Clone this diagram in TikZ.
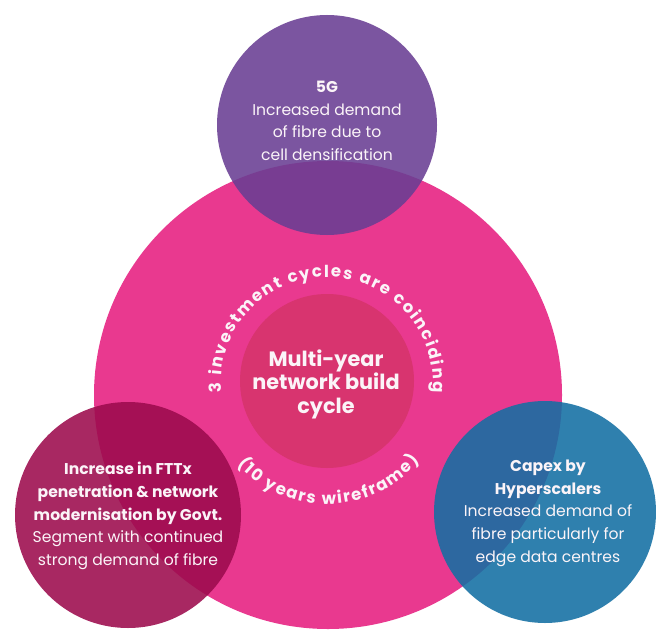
\documentclass[tikz,border=0pt]{standalone}
\usepackage{fontspec}
\setmainfont{Poppins}
\usetikzlibrary{decorations.text}
\definecolor{ringpink}{HTML}{E9398F}
\definecolor{corerose}{HTML}{D8346F}
\definecolor{fgpurple}{HTML}{693E93}
\definecolor{fttxplum}{HTML}{9C0B4D}
\definecolor{hyperblue}{HTML}{136FA3}
\definecolor{softwhite}{HTML}{FBF4F8}

\begin{document}
\begin{tikzpicture}[x=0.75pt,y=0.75pt,yscale=-1,xscale=1,
  bubble/.style={fill opacity=0.88},
  bubbletext/.style={text=softwhite,align=center,inner sep=0.75pt,font=\fontsize{11.7}{17}\selectfont},
  arctext/.style={decorate,decoration={text along path,text align=fit to path,
    text={|\bfseries\fontsize{12.4}{12.4}\selectfont\color{softwhite}|#1}}}
  ]
%set diagram to 656 x 631
\useasboundingbox (0,0) rectangle (656,631);
\fill[white] (0,0) rectangle (656,631);

\coordinate (ring) at (328,395);
\coordinate (core) at (327,381);
\coordinate (arcc) at (327,383);

%Shape: Circle
\fill[ringpink] (ring) circle (234);
%Shape: Circle
\fill[corerose] (core) circle (87);
%Shape: Circle
\fill[fgpurple,bubble] (327,125) circle (110);
%Shape: Circle
\fill[fttxplum,bubble] (128,515) circle (113);
%Shape: Circle
\fill[hyperblue,bubble] (545,512) circle (111);

% Curved Text
\path[arctext={3 investment cycles are coinciding}] ([shift={(-185:106)}]arcc) arc[start angle=-185,end angle=5,radius=106];
% Curved Text
\path[arctext={(10 years wireframe)}] ([shift={(-222:121)}]arcc) arc[start angle=-222,end angle=-320,radius=121];

% Text Node
\node[bubbletext,font=\bfseries\fontsize{15.6}{17.6}\selectfont] (coretext) at (326,384) {Multi-year\\network build\\cycle};
% Text Node
\node[bubbletext] (fivegtext) at (327,121) {\textbf{5G}\\Increased demand\\of fibre due to\\cell densification};
% Text Node
\node[bubbletext] (fttxtext) at (128,516) {\textbf{Increase in FTTx}\\\textbf{penetration \& network}\\\textbf{modernisation by Govt.}\\Segment with continued\\strong demand of fibre};
% Text Node
\node[bubbletext] (capextext) at (548,513) {\textbf{Capex by}\\\textbf{Hyperscalers}\\Increased demand of\\fibre particularly for\\edge data centres};

\end{tikzpicture}
\end{document}
